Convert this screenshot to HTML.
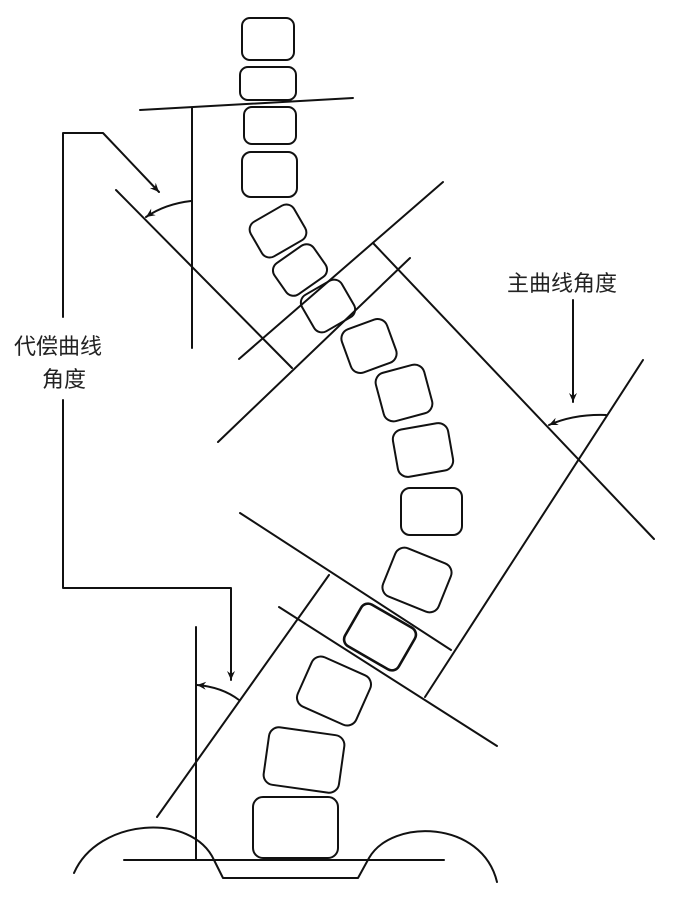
<!DOCTYPE html>
<html><head><meta charset="utf-8"><style>html,body{margin:0;padding:0;background:#fff}svg{display:block}</style></head>
<body>
<svg width="676" height="901" viewBox="0 0 676 901" xmlns="http://www.w3.org/2000/svg">
<defs>
<marker id="ah" markerWidth="10" markerHeight="10" refX="9" refY="5" orient="auto" markerUnits="userSpaceOnUse">
<path d="M0,1 L9,5 L0,9 L3,5 Z" fill="#111"/>
</marker>
</defs>
<g fill="none" stroke="#111" stroke-width="2" stroke-linecap="round" stroke-linejoin="round">
<rect x="242" y="18" width="52" height="42" rx="8"/>
<rect x="240" y="67" width="56" height="33" rx="8"/>
<rect x="244" y="107" width="52" height="37" rx="8"/>
<rect x="242" y="152" width="55" height="45" rx="9"/>
<rect x="-25" y="-20" width="50" height="40" rx="9" transform="translate(278,231) rotate(-30)"/>
<rect x="-24" y="-19" width="48" height="38" rx="9" transform="translate(300,270) rotate(-35)"/>
<rect x="-23" y="-21" width="46" height="42" rx="9" transform="translate(328,306) rotate(-30)"/>
<rect x="-24" y="-23" width="48" height="46" rx="10" transform="translate(369,346) rotate(-20)"/>
<rect x="-25" y="-25" width="50" height="50" rx="10" transform="translate(404,393) rotate(-15)"/>
<rect x="-28" y="-24" width="56" height="48" rx="10" transform="translate(423,450) rotate(-10)"/>
<rect x="401" y="488" width="61" height="47" rx="9"/>
<rect x="-30" y="-26" width="60" height="52" rx="10" transform="translate(417,580) rotate(22)"/>
<rect x="-31" y="-24" width="62" height="48" rx="8" stroke-width="2.6" transform="translate(380,637) rotate(30)"/>
<rect x="-32" y="-27" width="64" height="54" rx="10" transform="translate(334,691) rotate(24)"/>
<rect x="-38" y="-29" width="76" height="58" rx="10" transform="translate(304,760) rotate(8)"/>
<rect x="253" y="797" width="85" height="61" rx="10"/>
<line x1="140" y1="110" x2="353" y2="98"/>
<line x1="192" y1="108" x2="192" y2="348"/>
<line x1="116" y1="190" x2="292" y2="368"/>
<line x1="239" y1="359" x2="443" y2="182"/>
<line x1="218" y1="442" x2="410" y2="258"/>
<line x1="373" y1="243" x2="654" y2="539"/>
<line x1="643" y1="360" x2="425" y2="697"/>
<line x1="240" y1="513" x2="451" y2="650"/>
<line x1="279" y1="607" x2="497" y2="746"/>
<line x1="329" y1="575" x2="157" y2="817"/>
<line x1="196" y1="627" x2="196" y2="860"/>
<line x1="124" y1="860" x2="444" y2="860"/>
<path d="M74,873 C98,818 192,812 214,860 L223,878 L358,878 L369,858 C392,818 482,820 497,882"/>
<polyline points="63,317 63,133 103,133 159,192" marker-end="url(#ah)"/>
<polyline points="63,400 63,588 231,588 231,680" marker-end="url(#ah)"/>
<line x1="573" y1="300" x2="573" y2="402" marker-end="url(#ah)"/>
<path d="M191,201 Q165,204 146,217" marker-end="url(#ah)"/>
<path d="M606,415 Q574,414 549,425" marker-end="url(#ah)"/>
<path d="M239,700 Q222,687 197,685" marker-end="url(#ah)"/>
</g>
<g font-family="Liberation Sans, Noto Sans CJK SC, sans-serif" font-size="22" fill="#222">
<text x="14" y="354">代偿曲线</text>
<text x="42" y="387">角度</text>
<text x="507" y="291">主曲线角度</text>
</g>
</svg>
</body></html>
